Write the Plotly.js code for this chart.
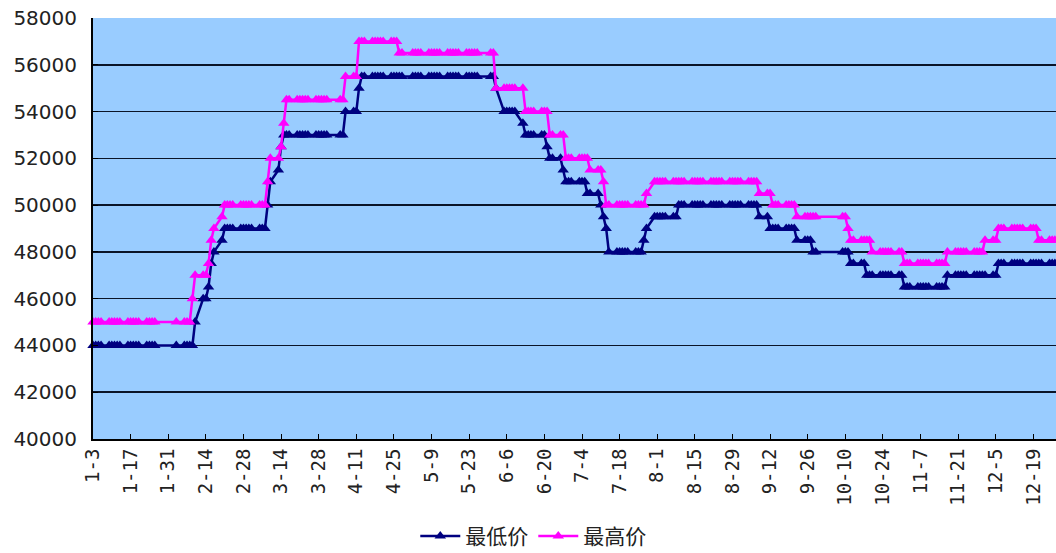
<!DOCTYPE html>
<html>
<head>
<meta charset="utf-8">
<script src="https://cdn.plot.ly/plotly-3.0.1.min.js"></script>
<style>
html,body{margin:0;padding:0;background:#ffffff;}
#chart{width:1056px;height:553px;}
</style>
</head>
<body>
<div id="chart"></div>
<script>
// ---- data ----
const seriesNames = ['最低价', '最高价'];
const firstDay = '2017-01-03';
const lastDay = '2017-12-29';
// weekday market holidays (no quotes)
const holidays = ['2017-01-27','2017-01-30','2017-01-31','2017-02-01','2017-02-02',
  '2017-04-03','2017-04-04','2017-05-01','2017-05-29','2017-05-30',
  '2017-10-02','2017-10-03','2017-10-04','2017-10-05','2017-10-06'];

// price changes: the price holds from each date until the next change
const lowChangeDates = ['2017-01-03','2017-02-10','2017-02-13','2017-02-15','2017-02-16','2017-02-17',
  '2017-02-20','2017-02-21','2017-03-09','2017-03-10','2017-03-13','2017-03-14','2017-03-15',
  '2017-04-07','2017-04-12','2017-04-13','2017-06-02','2017-06-05','2017-06-12','2017-06-13',
  '2017-06-21','2017-06-22','2017-06-27','2017-06-28','2017-07-06','2017-07-11','2017-07-12',
  '2017-07-13','2017-07-14','2017-07-27','2017-07-28','2017-07-31','2017-08-09','2017-09-08',
  '2017-09-12','2017-09-22','2017-09-28','2017-10-12','2017-10-18','2017-11-01','2017-11-17',
  '2017-12-06'];
const lowValues = [44000,45000,46000,46500,47500,48000,
  48500,49000,50000,51000,51500,52500,53000,
  54000,55000,55500,55000,54000,53500,53000,
  52500,52000,51500,51000,50500,50000,49500,
  49000,48000,48500,49000,49500,50000,49500,
  49000,48500,48000,47500,47000,46500,47000,
  47500];

const highChangeDates = ['2017-01-03','2017-02-09','2017-02-10','2017-02-15','2017-02-16','2017-02-17',
  '2017-02-20','2017-02-21','2017-03-09','2017-03-10','2017-03-14','2017-03-15','2017-03-16',
  '2017-04-07','2017-04-12','2017-04-27','2017-06-02','2017-06-13','2017-06-22','2017-06-28',
  '2017-07-07','2017-07-12','2017-07-13','2017-07-28','2017-07-31','2017-09-08','2017-09-13',
  '2017-09-22','2017-10-11','2017-10-12','2017-10-20','2017-11-01','2017-11-17','2017-12-01',
  '2017-12-06','2017-12-21'];
const highValues = [45000,46000,47000,47500,48500,49000,
  49500,50000,51000,52000,52500,53500,54500,
  55500,57000,56500,55000,54000,53000,52000,
  51500,51000,50000,50500,51000,50500,50000,
  49500,49000,48500,48000,47500,48000,48500,
  49000,48500];

const tickLabels = ['1-3','1-17','1-31','2-14','2-28','3-14','3-28','4-11','4-25','5-9','5-23',
  '6-6','6-20','7-4','7-18','8-1','8-15','8-29','9-12','9-26','10-10','10-24','11-7','11-21',
  '12-5','12-19'];
const yTicks = [40000,42000,44000,46000,48000,50000,52000,54000,56000,58000];

// ---- build trading-day series ----
function iso(d){ return d.toISOString().slice(0,10); }
const tradingDays = [];
for (let d = new Date(firstDay + 'T00:00:00Z'); iso(d) <= lastDay; d.setUTCDate(d.getUTCDate()+1)) {
  const wd = d.getUTCDay();
  const s = iso(d);
  if (wd !== 0 && wd !== 6 && holidays.indexOf(s) < 0) tradingDays.push(s);
}
function holdValues(changeDates, values){
  return tradingDays.map(function(day){
    let v = null;
    for (let i = 0; i < changeDates.length; i++) { if (changeDates[i] <= day) v = values[i]; }
    return v;
  });
}
const lowSeries = holdValues(lowChangeDates, lowValues);
const highSeries = holdValues(highChangeDates, highValues);

const traces = [
  {x: tradingDays, y: lowSeries, name: seriesNames[0], type: 'scatter', mode: 'lines+markers',
   line: {color: '#000080', width: 2.5}, marker: {symbol: 'triangle-up', size: 10, color: '#000080'},
   cliponaxis: false},
  {x: tradingDays, y: highSeries, name: seriesNames[1], type: 'scatter', mode: 'lines+markers',
   line: {color: '#FF00FF', width: 2.5}, marker: {symbol: 'triangle-up', size: 10, color: '#FF00FF'},
   cliponaxis: false}
];

const layout = {
  width: 1056, height: 553,
  margin: {l: 93, r: 0, t: 18, b: 114},
  paper_bgcolor: '#ffffff',
  plot_bgcolor: '#99CCFF',
  showlegend: true,
  legend: {orientation: 'h', xref: 'container', yref: 'container', x: 0.505, xanchor: 'center',
           y: 0.03, yanchor: 'middle', font: {family: 'Noto Sans CJK SC', size: 21, color: '#222'},
           itemwidth: 40, traceorder: 'normal'},
  xaxis: {
    type: 'date',
    range: ['2017-01-03', '2017-12-27 10:00'],
    tickmode: 'array',
    tickvals: tickLabels.map(function(t){ return '2017-' + t; }),
    ticktext: tickLabels,
    tickangle: -90,
    ticks: 'inside', ticklen: 5, tickcolor: '#000', tickwidth: 1,
    showgrid: false, zeroline: false,
    showline: true, linecolor: '#000', linewidth: 2,
    tickfont: {family: 'DejaVu Sans Mono', size: 19, color: '#222'}
  },
  yaxis: {
    range: [40000, 58000],
    tickmode: 'array', tickvals: yTicks, ticktext: yTicks.map(String),
    ticks: 'inside', ticklen: 5, tickcolor: '#000',
    ticklabelstandoff: 10,
    showgrid: true, gridcolor: '#0a1428', gridwidth: 1.5,
    zeroline: false,
    showline: true, linecolor: '#000', linewidth: 2,
    tickfont: {family: 'DejaVu Sans', size: 20, color: '#222'}
  }
};

Plotly.newPlot('chart', traces, layout, {displayModeBar: false, staticPlot: true});
</script>
</body>
</html>
